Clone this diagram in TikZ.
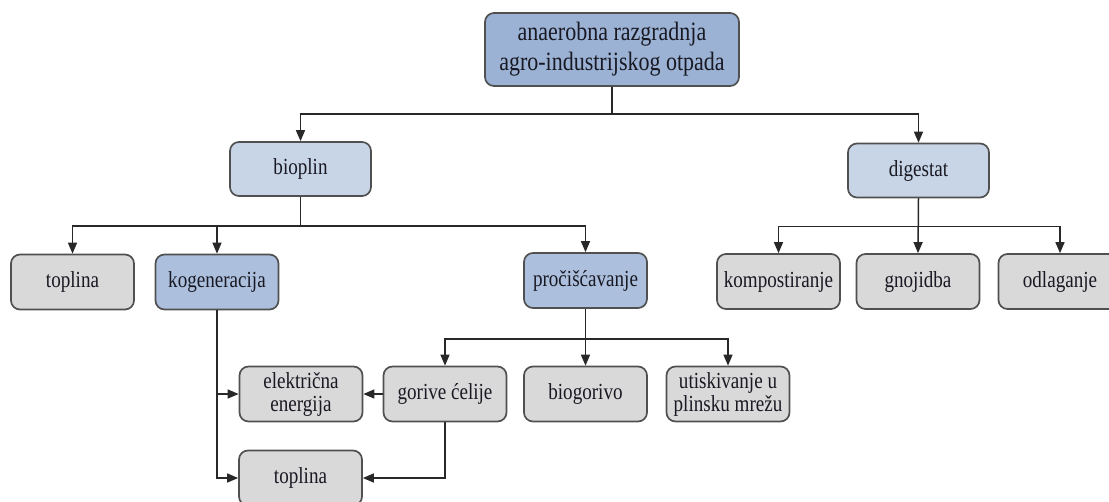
\documentclass[tikz,border=0pt]{standalone}
\usepackage{fontspec}
\setmainfont{Liberation Serif}[FakeStretch=0.83]
\usetikzlibrary{arrows.meta}
\definecolor{cRoot}{RGB}{155,178,212}
\definecolor{cMid}{RGB}{172,192,221}
\definecolor{cLight}{RGB}{200,213,231}
\definecolor{cGray}{RGB}{217,217,217}
\definecolor{cBorder}{RGB}{80,80,80}
\definecolor{cLine}{RGB}{40,40,40}
\definecolor{cText}{RGB}{25,25,35}
\tikzset{
  box/.style={draw=cBorder, line width=1.7pt, rounded corners=9pt, text=cText,
    minimum width=123pt, minimum height=55pt, inner sep=1pt, align=center,
    font=\fontsize{23}{23}\selectfont},
  rootbox/.style={box, fill=cRoot, minimum width=254pt, minimum height=73pt,
    font=\fontsize{26.5}{30}\selectfont},
  lightbox/.style={box, fill=cLight, minimum width=141pt, minimum height=54pt},
  midbox/.style={box, fill=cMid},
  graybox/.style={box, fill=cGray},
  arr/.style={draw=cLine, line width=1.5pt, -{Triangle[length=11pt,width=9pt]}},
}
\begin{document}
\begin{tikzpicture}[x=1pt,y=-1pt]
\clip (0,0) rectangle (1109,501);
\fill[white] (0,0) rectangle (1109,501);

\node[rootbox] (root) at (612,49.5) {anaerobna razgradnja\\agro-industrijskog otpada};
\node[lightbox] (bio) at (300.5,169) {bioplin};
\node[lightbox] (dig) at (918.5,170.5) {digestat};

\node[graybox] (top1) at (72.5,282) {toplina};
\node[midbox] (kog) at (217,282) {kogeneracija};
\node[midbox] (proc) at (585.5,280.5) {pročišćavanje};

\node[graybox] (komp) at (778.5,281.5) {kompostiranje};
\node[graybox] (gnoj) at (918,281.5) {gnojidba};
\node[graybox] (odl) at (1060,281.5) {odlaganje};

\node[graybox] (elek) at (301,394) {električna\\energija};
\node[graybox] (gor) at (445,394) {gorive ćelije};
\node[graybox] (biog) at (585.5,394) {biogorivo};
\node[graybox] (utis) at (728,394) {utiskivanje u\\plinsku mrežu};
\node[graybox] (top2) at (300.5,478) {toplina};

\draw[arr] (root.south) -- ++(0,27) -| (bio.north);
\draw[arr] (root.south) -- ++(0,27) -| (dig.north);

\draw[arr] (bio.south) -- ++(0,29) -| (top1.north);
\draw[arr] (bio.south) -- ++(0,29) -| (kog.north);
\draw[arr] (bio.south) -- ++(0,29) -| (proc.north);

\draw[arr] (dig.south) -- ++(0,28) -| (komp.north);
\draw[arr] (dig.south) -- (gnoj.north);
\draw[arr] (dig.south) -- ++(0,28) -| (odl.north);

\draw[arr] (proc.south) -- ++(0,30) -| (gor.north);
\draw[arr] (proc.south) -- (biog.north);
\draw[arr] (proc.south) -- ++(0,30) -| (utis.north);

\draw[arr] (kog.south) |- (elek.west);
\draw[arr] (kog.south) |- (top2.west);

\draw[arr] (gor.west) -- (elek.east);
\draw[arr] (gor.south) |- (top2.east);
\end{tikzpicture}
\end{document}
